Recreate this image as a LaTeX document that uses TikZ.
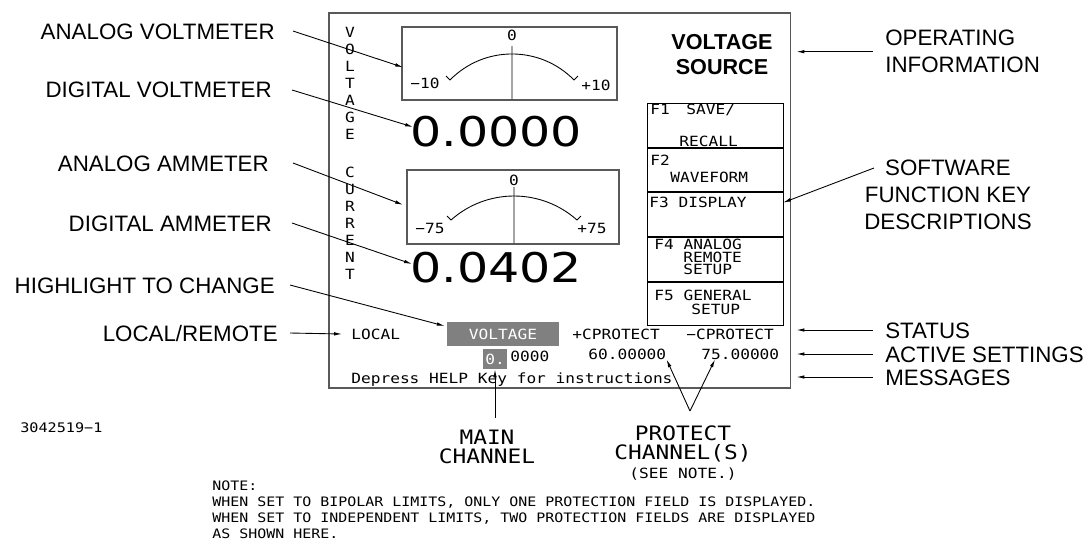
\documentclass[tikz,border=0pt]{standalone}
\usepackage{fontspec}
\setmainfont{Liberation Sans}
\newfontfamily\cadfont[FakeStretch=1.15]{DejaVu Sans Mono}
\newfontfamily\lcdfont[FakeStretch=1.2]{DejaVu Sans}
\usetikzlibrary{arrows.meta,positioning,calc}

\tikzset{
  labelfont/.style={font=\fontsize{12.7}{15.3}\selectfont,inner sep=0pt},
  callout/.style={labelfont,text height=9.1pt,text depth=0pt},
  scr/.style={font=\cadfont\fontsize{8}{9}\selectfont,inner sep=0pt,text height=5.8pt,text depth=0pt},
  fktext/.style={scr,anchor=west},
  bigcad/.style={font=\cadfont\fontsize{11.3}{10.8}\selectfont,inner sep=0pt,align=center},
  readout/.style={font=\lcdfont\fontsize{23.3}{24}\selectfont,inner sep=0pt,text height=17pt,text depth=0pt,anchor=west},
  lead/.style={-{Latex[length=4.5pt,width=2pt]},line width=0.5pt},
  frame/.style={draw=black!65,line width=0.9pt,inner sep=0pt},
  fkey/.style={draw,line width=0.6pt,minimum width=2.72cm,minimum height=0.872cm,inner sep=0pt},
  hilite/.style={scr,fill=black!50,text=white},
}

\begin{document}
\begin{tikzpicture}[x=0.02cm,y=-0.02cm]
\useasboundingbox (0,0) rectangle (1089,542);
\fill[white] (0,0) rectangle (1089,542);

% display panel
\node[frame,minimum width=9.24cm,minimum height=7.5cm,anchor=north west] (panel) at (328,12) {};

% analog meters
\node[frame,minimum width=4.3cm,minimum height=1.46cm,anchor=north west] (vmeter) at (401,26) {};
\draw[line width=0.5pt] (450,80) .. controls (484,45.3) and (540,45.3) .. (574,80);
\draw[line width=0.5pt] (450,80) -- (446,76) (574,80) -- (578,76) (512,46) -- (512,99);
\node[scr] at (512,35) {0};
\node[scr] at (425,83) {−10};
\node[scr] at (596,85) {+10};

\node[frame,minimum width=4.24cm,minimum height=1.48cm,anchor=north west] (ameter) at (406,169) {};
\draw[line width=0.5pt] (451,220) .. controls (487,188) and (541,188) .. (577,220);
\draw[line width=0.5pt] (451,220) -- (447,216) (577,220) -- (581,216) (514,187) -- (514,243);
\node[scr] at (514,180) {0};
\node[scr] at (430,228) {−75};
\node[scr] at (592,228) {+75};

% digital readouts
\node[readout] (vread) at (410,132) {0.0000};
\node[readout] (aread) at (410,268) {0.0402};

% vertical captions
\foreach \ch [count=\i from 0] in {V,O,L,T,A,G,E}
  \node[scr] at (350,32+17*\i) {\ch};
\foreach \ch [count=\i from 0] in {C,U,R,R,E,N,T}
  \node[scr] at (350,172+17*\i) {\ch};

% operating information
\node[font=\bfseries\fontsize{12.3}{14.2}\selectfont,inner sep=0pt,align=center] (srcinfo) at (722,54.5) {VOLTAGE\\SOURCE};

% function keys
\node[fkey,anchor=north west] (fk1) at (647,103) {};
\node[fkey,below=0pt of fk1] (fk2) {};
\node[fkey,below=0pt of fk2] (fk3) {};
\node[fkey,below=0pt of fk3] (fk4) {};
\node[fkey,below=0pt of fk4] (fk5) {};
\node[fktext] at (650,109) {F1};
\node[fktext] at (686,109) {SAVE/};
\node[fktext] at (679,141) {RECALL};
\node[fktext] at (650,160) {F2};
\node[fktext] at (670,177) {WAVEFORM};
\node[fktext] at (649,202) {F3 DISPLAY};
\node[fktext] at (654,244) {F4 ANALOG};
\node[fktext] at (683,257) {REMOTE};
\node[fktext] at (683,269) {SETUP};
\node[fktext] at (654,295) {F5 GENERAL};
\node[fktext] at (691,309) {SETUP};

% status lines
\node[scr,anchor=west] (local) at (351,334) {LOCAL};
\node[hilite,minimum width=2.24cm,minimum height=0.47cm] (hlvolt) at (503,334) {VOLTAGE};
\node[scr,anchor=west] (cpplus) at (572,334) {+CPROTECT};
\node[scr,anchor=west] (cpminus) at (686,334) {−CPROTECT};
\node[hilite,minimum width=0.48cm,minimum height=0.4cm] (zbox) at (495,359) {0.};
\node[scr,anchor=west] (zrest) at (510,356) {0000};
\node[scr,anchor=west] (set60) at (588,354) {60.00000};
\node[scr,anchor=west] (set75) at (701,354) {75.00000};
\node[scr,anchor=west] (helpmsg) at (351,378) {Depress HELP Key for instructions};

% left callouts
\node[callout,anchor=east] (lblav) at (275,31) {ANALOG VOLTMETER};
\node[callout,anchor=east] (lbldv) at (272,90) {DIGITAL VOLTMETER};
\node[callout,anchor=east] (lblaa) at (269,163) {ANALOG AMMETER};
\node[callout,anchor=east] (lblda) at (272,223) {DIGITAL AMMETER};
\node[callout,anchor=east] (lblhl) at (275,285) {HIGHLIGHT TO CHANGE};
\node[callout,anchor=east] (lbllr) at (278,333) {LOCAL/REMOTE};
\draw[lead] ([xshift=0.36cm]lblav.east) -- ($(vmeter.west)+(2,4)$);
\draw[lead] ([xshift=0.4cm]lbldv.east) -- ($(vread.west)+(3,-5)$);
\draw[lead] ([xshift=0.48cm]lblaa.east) -- ($(ameter.west)+(-3,-2)$);
\draw[lead] ([xshift=0.4cm]lblda.east) -- ($(aread.west)+(2,-4)$);
\draw[lead] ([xshift=0.3cm]lblhl.east) -- ($(hlvolt.west)+(-2,-8)$);
\draw[lead] ([xshift=0.24cm]lbllr.east) -- ([xshift=-0.18cm]local.west);

% right callouts
\node[labelfont,align=left,anchor=north west] (opinfo) at (885,30) {OPERATING\\INFORMATION};
\node[labelfont,align=center,anchor=north] (swkeys) at (948,160) {SOFTWARE\\FUNCTION KEY\\DESCRIPTIONS};
\node[callout,anchor=west] (lblstat) at (885,330) {STATUS};
\node[callout,anchor=west] (lblact) at (885,354) {ACTIVE SETTINGS};
\node[callout,anchor=west] (lblmsg) at (885,377) {MESSAGES};
\draw[lead] ([xshift=-0.24cm]opinfo.west) -- ($(opinfo.west -| panel.east)+(5,0)$);
\draw[lead] ($(swkeys.north west)+(10,8)$) -- ($(fk3.east)+(-1,-12)$);
\draw[lead] ([xshift=-0.24cm]lblstat.west) -- ($(lblstat.west -| panel.east)+(5,0)$);
\draw[lead] ([xshift=-0.24cm]lblact.west) -- ($(lblact.west -| panel.east)+(5,0)$);
\draw[lead] ([xshift=-0.24cm]lblmsg.west) -- ($(lblmsg.west -| panel.east)+(5,0)$);

% channel callouts
\node[bigcad,anchor=north] (mainch) at (487,430) {MAIN\\CHANNEL};
\node[bigcad,anchor=north] (protch) at (683,425) {PROTECT\\CHANNEL(S)};
\node[scr] (seenote) at (683,473) {(SEE NOTE.)};
\coordinate (papex) at ($(protch.north)+(7,-14)$);
\draw[lead,shorten <=0.24cm] (zbox.south |- mainch.north) -- (zbox.south);
\draw[lead] (papex) -- (set60.south east);
\draw[lead] (papex) -- ($(set75.south west)+(14,0)$);

% drawing number and note
\node[font=\cadfont\fontsize{7.5}{9}\selectfont,inner sep=0pt,text height=5.5pt,text depth=0pt,anchor=west] (dwgno) at (20,428) {3042519−1};
\node[font=\cadfont\fontsize{7.4}{9.07}\selectfont,inner sep=0pt,align=left,anchor=north west] (notetxt) at (212,480.4)
  {NOTE:\\WHEN SET TO BIPOLAR LIMITS, ONLY ONE PROTECTION FIELD IS DISPLAYED.\\WHEN SET TO INDEPENDENT LIMITS, TWO PROTECTION FIELDS ARE DISPLAYED\\AS SHOWN HERE.};
\end{tikzpicture}
\end{document}
